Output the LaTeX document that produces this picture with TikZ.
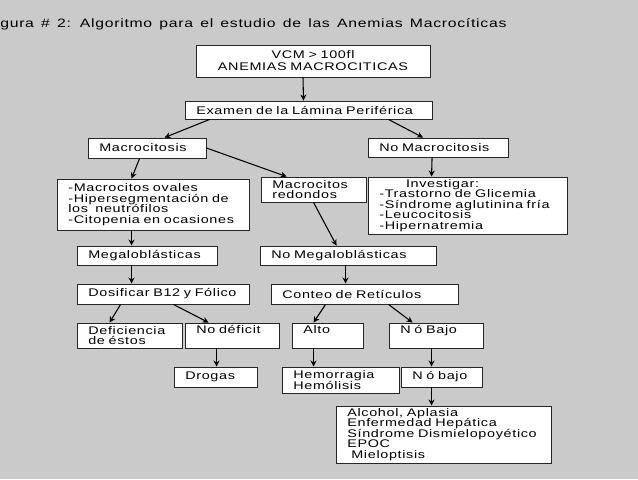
\documentclass[tikz,border=0pt]{standalone}
\usepackage{fontspec}
\setmainfont{Liberation Sans}[FakeStretch=1.3, LetterSpace=6, WordSpace=1.4]
\usetikzlibrary{arrows.meta}

\definecolor{fondo}{RGB}{202,202,202}
\newcommand{\txtcaja}{\fontsize{8.3}{7.9}\selectfont}
\newcommand{\txttitulo}{\fontsize{9.1}{10}\selectfont}

\begin{document}
\begin{tikzpicture}[x=0.75pt, y=-0.75pt, >={Stealth[length=4.5pt, width=4.5pt]},
  caja/.style={draw=black!85, fill=white, line width=0.7pt, align=left,
    inner xsep=8.5pt, inner ysep=0pt, font=\txtcaja},
  flecha/.style={->, line width=0.8pt}]
\fill[fondo] (0,0) rectangle (638,479);
\useasboundingbox (0,0) rectangle (638,479);

\node[anchor=base west, inner sep=0pt, font=\txttitulo] (titulo) at (0,27) {gura \# 2: Algoritmo para el estudio de las Anemias Macrocíticas};

% primer nivel
\node[caja, align=center, text width=158.5pt, minimum height=24pt, font=\fontsize{8.3}{9}\selectfont] (vcm) at (313,61) {VCM > 100fl\\ANEMIAS MACROCITICAS};
\node[caja, text width=168.25pt, minimum height=13.5pt] (examen) at (308.5,110) {Examen de la Lámina Periférica};
\draw[flecha] ([xshift=-7.5pt]vcm.south) -- ([xshift=-3.75pt]examen.north);

\node[caja, text width=71.5pt, minimum height=15pt] (macro) at (147,148) {Macrocitosis};
\node[caja, text width=88pt, minimum height=14.25pt] (nomacro) at (438,147.5) {No Macrocitosis};
\draw[flecha] ([xshift=18.75pt]examen.south west) -- ([xshift=57.75pt]macro.north west);
\draw[flecha] ([xshift=153pt]examen.south west) -- ([xshift=41.6pt]nomacro.north west);

% morfologia
\node[caja, text width=127pt, minimum height=38.25pt] (ovales) at (153,204.5) {-Macrocitos ovales\\-Hipersegmentación de\\los\ \ neutrófilos\\-Citopenia en ocasiones};
\node[caja, text width=61.75pt, minimum height=18.75pt] (redondos) at (313.5,189.5) {Macrocitos\\redondos};
\node[caja, text width=132.25pt, minimum height=42.75pt] (investigar) at (467.5,205.5) {\hspace*{20pt}Investigar:\\-Trastorno de Glicemia\\-Síndrome aglutinina fría\\-Leucocitosis\\-Hipernatremia};
\draw[flecha] ([xshift=39pt]macro.south west) -- ([xshift=56.25pt]ovales.north west);
\draw[flecha] (macro.east) -- ([xshift=19.5pt]redondos.north west);
\draw[flecha] ([xshift=48.4pt]nomacro.south west) -- ([xshift=48pt]investigar.north west);

% megaloblasticas / no megaloblasticas
\node[caja, text width=88pt, minimum height=14.25pt] (megalo) at (147,255.5) {Megaloblásticas};
\node[caja, text width=115pt, minimum height=14.25pt] (nomegalo) at (348,255.5) {No Megaloblásticas};
\draw[flecha] ([xshift=56.25pt]ovales.south west) -- ([xshift=41.25pt]megalo.north west);
\draw[flecha] ([xshift=39.75pt]redondos.south west) -- ([xshift=57.75pt]nomegalo.north west);

\node[caja, text width=112pt, minimum height=15pt] (dosificar) at (163,294) {Dosificar B12 y Fólico};
\node[caja, text width=123.25pt, minimum height=15pt] (conteo) at (364.5,294) {Conteo de Retículos};
\draw[flecha] ([xshift=41.25pt]megalo.south west) -- ([xshift=41.25pt]dosificar.north west);
\draw[flecha] ([xshift=64.5pt]nomegalo.south west) -- ([xshift=56.25pt]conteo.north west);

% ramas finales
\node[caja, text width=61.75pt, minimum height=18.75pt] (deficiencia) at (129.5,335.5) {Deficiencia\\de éstos};
\node[caja, text width=53.5pt, minimum height=18.75pt, text depth=9pt] (nodeficit) at (232,335.5) {No déficit};
\node[caja, text width=36.25pt, minimum height=18.75pt, text depth=9pt] (alto) at (327.5,335.5) {Alto};
\node[caja, text width=53.5pt, minimum height=18.75pt, text depth=9pt] (nbajo) at (436,335.5) {N ó Bajo};
\draw[flecha] ([xshift=33pt]dosificar.south west) -- ([xshift=24.75pt]deficiencia.north west);
\draw[flecha] ([xshift=72.75pt]dosificar.south west) -- ([xshift=18pt]nodeficit.north west);
\draw[flecha] ([xshift=41.25pt]conteo.south west) -- ([xshift=16.5pt]alto.north west);
\draw[flecha] ([xshift=88.5pt]conteo.south west) -- ([xshift=18pt]nbajo.north west);

\node[caja, text width=45.25pt, minimum height=15pt] (drogas) at (215.5,377) {Drogas};
\node[caja, text width=70.75pt, minimum height=19.5pt] (hemorragia) at (340.5,380) {Hemorragia\\Hemólisis};
\node[caja, text width=43.75pt, minimum height=15pt] (nbajo2) at (441.5,377) {N ó bajo};
\draw[flecha] ([xshift=24pt]nodeficit.south west) -- ([xshift=32.25pt]drogas.north west);
\draw[flecha] ([xshift=16.5pt]alto.south west) -- ([xshift=24pt]hemorragia.north west);
\draw[flecha] ([xshift=32.25pt]nbajo.south west) -- ([xshift=23.25pt]nbajo2.north west);

\node[caja, text width=144.25pt, minimum height=42.75pt] (alcohol) at (443.5,434.5) {Alcohol, Aplasia\\Enfermedad Hepática\\Síndrome Dismielopoyético\\EPOC\\\hspace*{3pt}Mieloptisis};
\draw[flecha] ([xshift=23.25pt]nbajo2.south west) -- ([xshift=72pt]alcohol.north west);
\end{tikzpicture}
\end{document}
